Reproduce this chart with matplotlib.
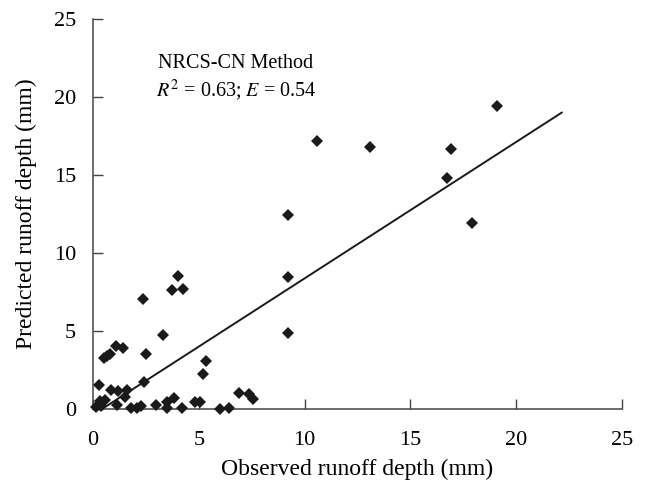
import matplotlib
matplotlib.use("Agg")
import matplotlib.pyplot as plt

# observed vs predicted runoff depth (mm)
observed = [19.1, 10.6, 13.1, 16.9, 16.75, 17.9, 9.2, 9.2, 9.2,
            4.0, 3.75, 4.25, 2.35, 3.3, 1.1, 1.4, 0.5, 0.65, 0.8, 2.5,
            5.35, 5.2, 0.3, 0.85, 1.2, 1.6, 1.5, 2.4, 6.9, 7.35, 7.55,
            3.85, 3.5, 4.8, 5.05, 3.0, 1.15, 0.35, 0.55, 0.15, 0.4,
            1.8, 2.1, 2.25, 3.5, 4.2, 6.0, 6.45]
predicted = [19.4, 17.2, 16.8, 16.7, 14.8, 11.9, 12.45, 8.45, 4.9,
             8.5, 7.6, 7.7, 7.05, 4.75, 4.05, 3.9, 3.3, 3.4, 3.5, 3.55,
             3.05, 2.25, 1.55, 1.25, 1.15, 1.25, 0.8, 1.75, 1.0, 0.95, 0.65,
             0.7, 0.45, 0.45, 0.45, 0.25, 0.25, 0.5, 0.6, 0.15, 0.2,
             0.05, 0.1, 0.2, 0.05, 0.05, 0.0, 0.1]

# regression line end points
fit_x = [0.42, 22.15]
fit_y = [0.0, 19.0]

ticks = [0, 5, 10, 15, 20, 25]

plt.rcParams['font.family'] = ['Liberation Serif', 'DejaVu Serif']
plt.rcParams['mathtext.fontset'] = 'stix'

fig = plt.figure(figsize=(6.47, 4.87), dpi=100)
ax = fig.add_axes([0.1437, 0.160, 0.8177, 0.801])

ax.plot(fit_x, fit_y, color='#1a1a1a', lw=1.4, zorder=2)
ax.plot(observed, predicted, 'D', color='#1a1a1a', ms=6.2, mew=0, zorder=3,
        clip_on=False)

ax.set_xlim(0, 25)
ax.set_ylim(0, 25)
ax.set_xticks(ticks)
ax.set_yticks(ticks)
ax.tick_params(direction='in', length=7, width=1, labelsize=16,
               color='#444444')
ax.tick_params(axis='x', pad=16)
ax.tick_params(axis='y', pad=12)
for side in ['top', 'right']:
    ax.spines[side].set_visible(False)
for side in ['left', 'bottom']:
    ax.spines[side].set_color('#444444')
    ax.spines[side].set_linewidth(1.1)

ax.set_xlabel('Observed runoff depth (mm)', fontsize=17, labelpad=6)
ax.set_ylabel('Predicted runoff depth (mm)', fontsize=17, labelpad=12)

ax.text(6.75, 22.15, 'NRCS-CN Method', ha='center', va='center', fontsize=14.5)
ax.text(6.75, 20.45, r'$R^2$ = 0.63; $E$ = 0.54', ha='center', va='center',
        fontsize=14.5)

fig.savefig('out.png', dpi=100)
